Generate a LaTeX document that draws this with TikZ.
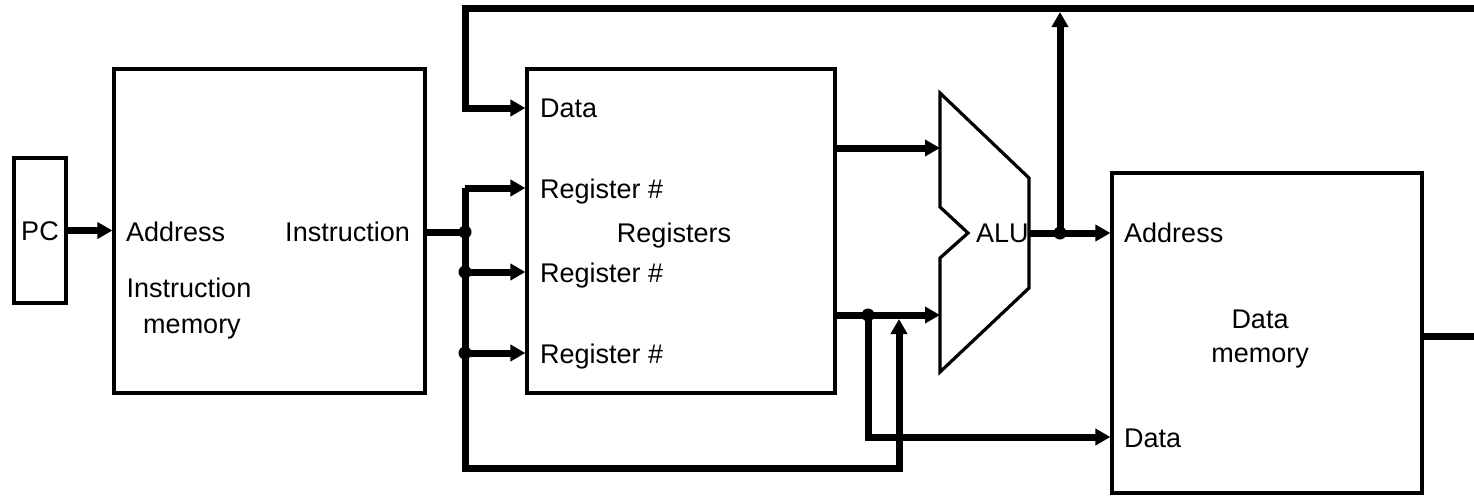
\documentclass[tikz,border=0pt]{standalone}
\usepackage{fontspec}
\setmainfont{Liberation Sans}
\usetikzlibrary{arrows.meta}
\tikzset{
  blk/.style={draw, line width=3.2pt, minimum width=#1, inner sep=0pt},
  bus/.style={line width=7pt},
  tipped/.style={-{Triangle[length=15pt,width=16pt]}},
  lbl/.style={inner sep=0pt, font=\fontsize{27}{32}\selectfont},
  dot/.style={circle, fill=black, inner sep=0pt, minimum size=13pt},
}
\begin{document}
\begin{tikzpicture}[x=1pt,y=-1pt]
\useasboundingbox (0,0) rectangle (1474,496);
% blocks
\node[blk=52pt, minimum height=145pt] (pc) at (40,230.5) {};
\node[blk=311pt, minimum height=324pt] (im) at (269.5,231) {};
\node[blk=308pt, minimum height=324pt] (reg) at (681,231) {};
\node[blk=310pt, minimum height=320pt] (dm) at (1267,333) {};
% ALU shape
\coordinate (aluTL) at (940,93);
\coordinate (aluTR) at (1029,178);
\coordinate (aluBR) at (1029,288);
\coordinate (aluBL) at (940,372);
\coordinate (aluN1) at (940,207);
\coordinate (aluNm) at (968,233);
\coordinate (aluN2) at (940,258);
\draw[line width=3.2pt, line join=miter] (aluTL) -- (aluTR) -- (aluBR) -- (aluBL) -- (aluN2) -- (aluNm) -- (aluN1) -- cycle;
\coordinate (aluIn1) at (940,148);
\coordinate (aluIn2) at (940,315);
\coordinate (aluOut) at (1029,233);
% texts
\node[lbl] (tpc) at (40,231) {PC};
\node[lbl, anchor=base west] (tia) at (126,241) {Address};
\node[lbl, anchor=base east] (tii) at (410,241) {Instruction};
\node[lbl, anchor=base] (tim1) at (189,297) {Instruction};
\node[lbl, anchor=base] (tim2) at (192,333) {memory};
\node[lbl, anchor=base west] (trd) at (540,117) {Data};
\node[lbl, anchor=base west] (tr1) at (540,198) {Register \#};
\node[lbl, anchor=base west] (tr2) at (540,282) {Register \#};
\node[lbl, anchor=base west] (tr3) at (540,363) {Register \#};
\node[lbl, anchor=base] (treg) at (674,242) {Registers};
\node[lbl, anchor=base west] (talu) at (976,242) {ALU};
\node[lbl, anchor=base west] (tda) at (1124,242) {Address};
\node[lbl, anchor=base] (tdm1) at (1260,328) {Data};
\node[lbl, anchor=base] (tdm2) at (1260,362) {memory};
\node[lbl, anchor=base west] (tdd) at (1124,447) {Data};
% coordinates for wires
\coordinate (jI) at (465,232);
\coordinate (b1) at (465,188);
\coordinate (b2) at (465,272);
\coordinate (b3) at (465,353);
\coordinate (bBL) at (465,468);
\coordinate (bBR) at (899,468);
\coordinate (bUp) at (899,319);
\coordinate (topR) at (1474,8);
\coordinate (topL) at (465,8);
\coordinate (dIn) at (465,108);
\coordinate (rO1) at (835,148);
\coordinate (rO2) at (835,315);
\coordinate (j2) at (868,315);
\coordinate (j2d) at (868,437);
\coordinate (jA) at (1060,233);
\coordinate (jAt) at (1060,12);
\coordinate (dmO) at (1422,336);
\coordinate (dmR) at (1474,336);
% wires
\draw[bus, tipped] (pc.east) -- (pc.east -| im.west);
\draw[bus] (jI -| im.east) -- (jI);
\draw[bus, tipped] (b1) -- (b1 -| reg.west);
\draw[bus, tipped] (b2) -- (b2 -| reg.west);
\draw[bus, tipped] (b3) -- (b3 -| reg.west);
\draw[bus, tipped] (b1) -- (bBL) -- (bBR) -- (bUp);
\draw[bus, tipped] (topR) -- (topL) -- (dIn) -- (dIn -| reg.west);
\draw[bus, tipped] (rO1) -- (aluIn1);
\draw[bus, tipped] (rO2) -- (aluIn2);
\draw[bus, tipped] (j2) -- (j2d) -- (j2d -| dm.west);
\draw[bus, tipped] (aluOut) -- (aluOut -| dm.west);
\draw[bus, tipped] (jA) -- (jAt);
\draw[bus] (dmO) -- (dmR);
% junction dots
\node[dot] (d1) at (jI) {};
\node[dot] (d2) at (b2) {};
\node[dot] (d3) at (b3) {};
\node[dot] (d4) at (j2) {};
\node[dot] (d5) at (jA) {};
\end{tikzpicture}
\end{document}
